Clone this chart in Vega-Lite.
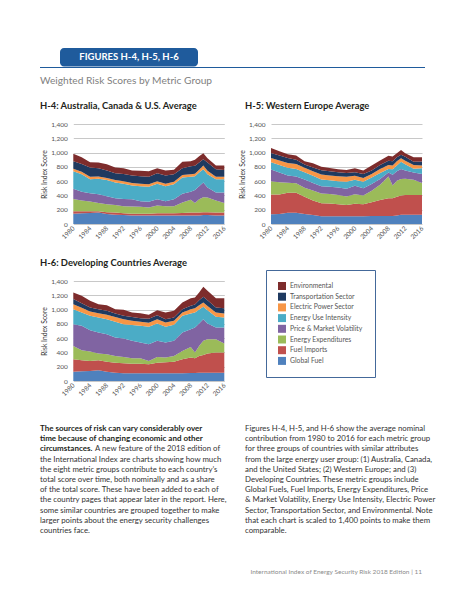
{
  "$schema": "https://vega.github.io/schema/vega-lite/v6.json",
  "background": "white",
  "padding": {"left": 40, "top": 48, "right": 0, "bottom": 0},
  "autosize": {"type": "pad"},
  "bounds": "flush",
  "spacing": 0,
  "datasets": {
    "groups": [
      {"key": "gf", "name": "Global Fuel", "k": 1},
      {"key": "fi", "name": "Fuel Imports", "k": 2},
      {"key": "ee", "name": "Energy Expenditures", "k": 3},
      {"key": "pm", "name": "Price & Market Volatility", "k": 4},
      {"key": "eu", "name": "Energy Use Intensity", "k": 5},
      {"key": "ep", "name": "Electric Power Sector", "k": 6},
      {"key": "ts", "name": "Transportation Sector", "k": 7},
      {"key": "en", "name": "Environmental", "k": 8}
    ],
    "risk": [
      {"c": "H-4", "year": 1980, "gf": 145, "fi": 35, "ee": 170, "pm": 145, "eu": 245, "ep": 35, "ts": 105, "en": 105},
      {"c": "H-4", "year": 1982, "gf": 150, "fi": 30, "ee": 150, "pm": 120, "eu": 245, "ep": 35, "ts": 110, "en": 95},
      {"c": "H-4", "year": 1984, "gf": 155, "fi": 25, "ee": 135, "pm": 115, "eu": 195, "ep": 35, "ts": 130, "en": 75},
      {"c": "H-4", "year": 1986, "gf": 160, "fi": 20, "ee": 115, "pm": 120, "eu": 220, "ep": 30, "ts": 115, "en": 80},
      {"c": "H-4", "year": 1988, "gf": 140, "fi": 25, "ee": 110, "pm": 115, "eu": 225, "ep": 30, "ts": 105, "en": 85},
      {"c": "H-4", "year": 1990, "gf": 130, "fi": 30, "ee": 105, "pm": 95, "eu": 220, "ep": 35, "ts": 95, "en": 80},
      {"c": "H-4", "year": 1992, "gf": 125, "fi": 25, "ee": 100, "pm": 100, "eu": 215, "ep": 35, "ts": 100, "en": 80},
      {"c": "H-4", "year": 1994, "gf": 120, "fi": 25, "ee": 100, "pm": 100, "eu": 195, "ep": 35, "ts": 105, "en": 70},
      {"c": "H-4", "year": 1996, "gf": 120, "fi": 25, "ee": 98, "pm": 77, "eu": 210, "ep": 35, "ts": 105, "en": 75},
      {"c": "H-4", "year": 1998, "gf": 120, "fi": 25, "ee": 85, "pm": 80, "eu": 210, "ep": 35, "ts": 105, "en": 80},
      {"c": "H-4", "year": 2000, "gf": 120, "fi": 30, "ee": 110, "pm": 85, "eu": 220, "ep": 35, "ts": 110, "en": 70},
      {"c": "H-4", "year": 2002, "gf": 120, "fi": 30, "ee": 100, "pm": 70, "eu": 210, "ep": 35, "ts": 115, "en": 70},
      {"c": "H-4", "year": 2004, "gf": 120, "fi": 30, "ee": 100, "pm": 95, "eu": 210, "ep": 35, "ts": 105, "en": 65},
      {"c": "H-4", "year": 2006, "gf": 120, "fi": 35, "ee": 145, "pm": 125, "eu": 225, "ep": 35, "ts": 95, "en": 90},
      {"c": "H-4", "year": 2008, "gf": 120, "fi": 40, "ee": 180, "pm": 110, "eu": 210, "ep": 35, "ts": 115, "en": 70},
      {"c": "H-4", "year": 2009, "gf": 120, "fi": 40, "ee": 135, "pm": 180, "eu": 195, "ep": 35, "ts": 110, "en": 85},
      {"c": "H-4", "year": 2010, "gf": 120, "fi": 40, "ee": 185, "pm": 185, "eu": 190, "ep": 40, "ts": 100, "en": 90},
      {"c": "H-4", "year": 2011, "gf": 125, "fi": 40, "ee": 210, "pm": 205, "eu": 185, "ep": 55, "ts": 85, "en": 85},
      {"c": "H-4", "year": 2012, "gf": 125, "fi": 40, "ee": 205, "pm": 140, "eu": 185, "ep": 50, "ts": 115, "en": 60},
      {"c": "H-4", "year": 2014, "gf": 120, "fi": 40, "ee": 170, "pm": 110, "eu": 185, "ep": 35, "ts": 105, "en": 55},
      {"c": "H-4", "year": 2016, "gf": 120, "fi": 40, "ee": 135, "pm": 145, "eu": 185, "ep": 35, "ts": 95, "en": 65},
      {"c": "H-5", "year": 1980, "gf": 135, "fi": 279, "ee": 186, "pm": 162, "eu": 103, "ep": 60, "ts": 70, "en": 70},
      {"c": "H-5", "year": 1982, "gf": 140, "fi": 274, "ee": 171, "pm": 135, "eu": 105, "ep": 65, "ts": 70, "en": 60},
      {"c": "H-5", "year": 1984, "gf": 158, "fi": 279, "ee": 140, "pm": 103, "eu": 106, "ep": 69, "ts": 70, "en": 50},
      {"c": "H-5", "year": 1986, "gf": 158, "fi": 279, "ee": 133, "pm": 95, "eu": 105, "ep": 70, "ts": 60, "en": 58},
      {"c": "H-5", "year": 1988, "gf": 140, "fi": 241, "ee": 126, "pm": 116, "eu": 102, "ep": 61, "ts": 46, "en": 48},
      {"c": "H-5", "year": 1990, "gf": 125, "fi": 205, "ee": 140, "pm": 105, "eu": 100, "ep": 65, "ts": 50, "en": 60},
      {"c": "H-5", "year": 1992, "gf": 110, "fi": 180, "ee": 138, "pm": 102, "eu": 93, "ep": 70, "ts": 60, "en": 47},
      {"c": "H-5", "year": 1994, "gf": 110, "fi": 178, "ee": 132, "pm": 100, "eu": 92, "ep": 68, "ts": 60, "en": 45},
      {"c": "H-5", "year": 1996, "gf": 110, "fi": 165, "ee": 130, "pm": 105, "eu": 90, "ep": 70, "ts": 55, "en": 40},
      {"c": "H-5", "year": 1998, "gf": 110, "fi": 155, "ee": 120, "pm": 110, "eu": 95, "ep": 70, "ts": 55, "en": 40},
      {"c": "H-5", "year": 2000, "gf": 110, "fi": 175, "ee": 130, "pm": 120, "eu": 85, "ep": 55, "ts": 50, "en": 55},
      {"c": "H-5", "year": 2002, "gf": 110, "fi": 168, "ee": 122, "pm": 100, "eu": 90, "ep": 55, "ts": 55, "en": 50},
      {"c": "H-5", "year": 2004, "gf": 112, "fi": 193, "ee": 160, "pm": 95, "eu": 90, "ep": 50, "ts": 50, "en": 68},
      {"c": "H-5", "year": 2006, "gf": 112, "fi": 223, "ee": 215, "pm": 80, "eu": 85, "ep": 55, "ts": 55, "en": 63},
      {"c": "H-5", "year": 2008, "gf": 112, "fi": 248, "ee": 305, "pm": 55, "eu": 50, "ep": 55, "ts": 60, "en": 70},
      {"c": "H-5", "year": 2009, "gf": 112, "fi": 248, "ee": 180, "pm": 150, "eu": 75, "ep": 55, "ts": 60, "en": 65},
      {"c": "H-5", "year": 2010, "gf": 120, "fi": 260, "ee": 225, "pm": 135, "eu": 80, "ep": 60, "ts": 55, "en": 55},
      {"c": "H-5", "year": 2011, "gf": 128, "fi": 272, "ee": 230, "pm": 140, "eu": 100, "ep": 50, "ts": 50, "en": 65},
      {"c": "H-5", "year": 2012, "gf": 130, "fi": 275, "ee": 230, "pm": 115, "eu": 85, "ep": 50, "ts": 55, "en": 50},
      {"c": "H-5", "year": 2014, "gf": 130, "fi": 275, "ee": 215, "pm": 100, "eu": 55, "ep": 50, "ts": 45, "en": 65},
      {"c": "H-5", "year": 2016, "gf": 130, "fi": 275, "ee": 170, "pm": 125, "eu": 80, "ep": 40, "ts": 55, "en": 60},
      {"c": "H-6", "year": 1980, "gf": 131, "fi": 173, "ee": 187, "pm": 305, "eu": 210, "ep": 70, "ts": 71, "en": 93},
      {"c": "H-6", "year": 1982, "gf": 135, "fi": 155, "ee": 140, "pm": 342, "eu": 188, "ep": 65, "ts": 65, "en": 103},
      {"c": "H-6", "year": 1984, "gf": 140, "fi": 141, "ee": 131, "pm": 299, "eu": 202, "ep": 60, "ts": 57, "en": 93},
      {"c": "H-6", "year": 1986, "gf": 150, "fi": 140, "ee": 94, "pm": 296, "eu": 210, "ep": 60, "ts": 55, "en": 71},
      {"c": "H-6", "year": 1988, "gf": 131, "fi": 140, "ee": 103, "pm": 281, "eu": 211, "ep": 61, "ts": 56, "en": 79},
      {"c": "H-6", "year": 1990, "gf": 117, "fi": 140, "ee": 94, "pm": 257, "eu": 222, "ep": 65, "ts": 50, "en": 61},
      {"c": "H-6", "year": 1992, "gf": 108, "fi": 142, "ee": 87, "pm": 257, "eu": 202, "ep": 70, "ts": 47, "en": 84},
      {"c": "H-6", "year": 1994, "gf": 108, "fi": 135, "ee": 75, "pm": 244, "eu": 223, "ep": 60, "ts": 50, "en": 65},
      {"c": "H-6", "year": 1996, "gf": 108, "fi": 132, "ee": 78, "pm": 220, "eu": 234, "ep": 56, "ts": 52, "en": 70},
      {"c": "H-6", "year": 1998, "gf": 108, "fi": 126, "ee": 47, "pm": 234, "eu": 245, "ep": 55, "ts": 55, "en": 57},
      {"c": "H-6", "year": 2000, "gf": 108, "fi": 149, "ee": 80, "pm": 225, "eu": 243, "ep": 61, "ts": 54, "en": 72},
      {"c": "H-6", "year": 2002, "gf": 108, "fi": 154, "ee": 66, "pm": 210, "eu": 220, "ep": 62, "ts": 46, "en": 94},
      {"c": "H-6", "year": 2004, "gf": 108, "fi": 163, "ee": 80, "pm": 211, "eu": 224, "ep": 56, "ts": 48, "en": 93},
      {"c": "H-6", "year": 2006, "gf": 110, "fi": 194, "ee": 117, "pm": 259, "eu": 233, "ep": 47, "ts": 46, "en": 94},
      {"c": "H-6", "year": 2008, "gf": 112, "fi": 216, "ee": 149, "pm": 248, "eu": 220, "ep": 61, "ts": 47, "en": 107},
      {"c": "H-6", "year": 2009, "gf": 112, "fi": 206, "ee": 80, "pm": 352, "eu": 210, "ep": 60, "ts": 50, "en": 100},
      {"c": "H-6", "year": 2010, "gf": 117, "fi": 234, "ee": 140, "pm": 314, "eu": 195, "ep": 60, "ts": 70, "en": 110},
      {"c": "H-6", "year": 2011, "gf": 117, "fi": 248, "ee": 197, "pm": 304, "eu": 173, "ep": 61, "ts": 80, "en": 140},
      {"c": "H-6", "year": 2012, "gf": 117, "fi": 267, "ee": 201, "pm": 220, "eu": 185, "ep": 60, "ts": 80, "en": 134},
      {"c": "H-6", "year": 2014, "gf": 117, "fi": 281, "ee": 187, "pm": 165, "eu": 150, "ep": 60, "ts": 70, "en": 130},
      {"c": "H-6", "year": 2016, "gf": 117, "fi": 281, "ee": 126, "pm": 226, "eu": 140, "ep": 55, "ts": 75, "en": 140}
    ]
  },
  "vconcat": [
    {
      "hconcat": [
        {"width": 1, "height": 18.5, "data": {"values": []}, "mark": "text"},
        {
          "width": 138,
          "height": 18.5,
          "view": {"fill": "#1f5b9c", "stroke": null, "cornerRadius": 4},
          "data": {"values": [{"t": "FIGURES H-4, H-5, H-6"}]},
          "mark": {"type": "text", "color": "white", "fontWeight": "bold", "fontSize": 9.5},
          "encoding": {"text": {"field": "t"}}
        }
      ],
      "spacing": 19,
      "bounds": "flush"
    },
    {"width": 1, "height": 18.5, "data": {"values": []}, "mark": "text"},
    {
      "width": 385,
      "height": 1,
      "view": {"fill": "#1f5b9c", "stroke": null},
      "data": {"values": []},
      "mark": "text",
      "title": {
        "text": "Weighted Risk Scores by Metric Group",
        "orient": "bottom",
        "anchor": "start",
        "frame": "group",
        "offset": 8,
        "fontSize": 10.2,
        "fontWeight": "normal",
        "color": "#7f7f7f"
      }
    },
    {"width": 1, "height": 55.2, "data": {"values": []}, "mark": "text"},
    {
      "hconcat": [
        {"width": 1, "height": 100, "data": {"values": []}, "mark": "text"},
        {
          "hconcat": [
            {
              "width": 151,
              "height": 100,
              "title": {"text": "H-4: Australia, Canada & U.S. Average", "anchor": "start", "frame": "group", "dx": -33.3, "offset": 10, "fontSize": 9.4, "fontWeight": "bold", "color": "#231f20"},
              "data": {"name": "risk"},
              "transform": [
                {"filter": "datum.c == 'H-4'"},
                {"fold": ["gf", "fi", "ee", "pm", "eu", "ep", "ts", "en"], "as": ["key", "v"]},
                {"lookup": "key", "from": {"data": {"name": "groups"}, "key": "key", "fields": ["name", "k"]}}
              ],
              "mark": {"type": "area", "interpolate": "linear"},
              "encoding": {
                "x": {"field": "year", "type": "quantitative", "scale": {"domain": [1980, 2016], "nice": false, "zero": false}, "axis": {"values": [1980, 1984, 1988, 1992, 1996, 2000, 2004, 2008, 2012, 2016], "format": "d", "title": null}},
                "y": {"field": "v", "type": "quantitative", "stack": "zero", "scale": {"domain": [0, 1400], "nice": false}, "axis": {"values": [0, 200, 400, 600, 800, 1000, 1200, 1400], "format": ",.0f", "title": "Risk Index Score"}},
                "color": {
                  "field": "name",
                  "type": "nominal",
                  "scale": {
                    "domain": ["Environmental", "Transportation Sector", "Electric Power Sector", "Energy Use Intensity", "Price & Market Volatility", "Energy Expenditures", "Fuel Imports", "Global Fuel"],
                    "range": ["#7d2c2c", "#1f3a60", "#f79646", "#4bacc6", "#8064a2", "#9bbb59", "#c0504d", "#4f81bd"]
                  },
                  "legend": {"title": null, "orient": "none", "legendX": 226, "legendY": 222, "direction": "vertical", "symbolType": "square", "symbolSize": 64, "symbolStrokeWidth": 0, "labelFontSize": 6.8, "labelColor": "#555555", "labelOffset": 4, "rowPadding": 2.7, "padding": 12, "strokeColor": "#44699a"}
                },
                "order": {"field": "k", "type": "quantitative"}
              }
            },
            {
              "width": 151,
              "height": 100,
              "title": {"text": "H-5: Western Europe Average", "anchor": "start", "frame": "group", "dx": -26, "offset": 10, "fontSize": 9.4, "fontWeight": "bold", "color": "#231f20"},
              "data": {"name": "risk"},
              "transform": [
                {"filter": "datum.c == 'H-5'"},
                {"fold": ["gf", "fi", "ee", "pm", "eu", "ep", "ts", "en"], "as": ["key", "v"]},
                {"lookup": "key", "from": {"data": {"name": "groups"}, "key": "key", "fields": ["name", "k"]}}
              ],
              "mark": {"type": "area", "interpolate": "linear"},
              "encoding": {
                "x": {"field": "year", "type": "quantitative", "scale": {"domain": [1980, 2016], "nice": false, "zero": false}, "axis": {"values": [1980, 1984, 1988, 1992, 1996, 2000, 2004, 2008, 2012, 2016], "format": "d", "title": null}},
                "y": {"field": "v", "type": "quantitative", "stack": "zero", "scale": {"domain": [0, 1400], "nice": false}, "axis": {"values": [0, 200, 400, 600, 800, 1000, 1200, 1400], "format": ",.0f", "title": "Risk Index Score"}},
                "color": {"field": "name", "type": "nominal"},
                "order": {"field": "k", "type": "quantitative"}
              }
            }
          ],
          "spacing": 46.7,
          "bounds": "flush"
        }
      ],
      "spacing": 32.3,
      "bounds": "flush"
    },
    {"width": 1, "height": 156.3, "data": {"values": []}, "mark": "text"},
    {
      "hconcat": [
        {"width": 1, "height": 100, "data": {"values": []}, "mark": "text"},
        {
          "width": 151,
          "height": 100,
          "title": {"text": "H-6: Developing Countries Average", "anchor": "start", "frame": "group", "dx": -33.3, "offset": 10, "fontSize": 9.4, "fontWeight": "bold", "color": "#231f20"},
          "data": {"name": "risk"},
          "transform": [
            {"filter": "datum.c == 'H-6'"},
            {"fold": ["gf", "fi", "ee", "pm", "eu", "ep", "ts", "en"], "as": ["key", "v"]},
            {"lookup": "key", "from": {"data": {"name": "groups"}, "key": "key", "fields": ["name", "k"]}}
          ],
          "mark": {"type": "area", "interpolate": "linear"},
          "encoding": {
            "x": {"field": "year", "type": "quantitative", "scale": {"domain": [1980, 2016], "nice": false, "zero": false}, "axis": {"values": [1980, 1984, 1988, 1992, 1996, 2000, 2004, 2008, 2012, 2016], "format": "d", "title": null}},
            "y": {"field": "v", "type": "quantitative", "stack": "zero", "scale": {"domain": [0, 1400], "nice": false}, "axis": {"values": [0, 200, 400, 600, 800, 1000, 1200, 1400], "format": ",.0f", "title": "Risk Index Score"}},
            "color": {"field": "name", "type": "nominal"},
            "order": {"field": "k", "type": "quantitative"}
          }
        }
      ],
      "spacing": 32.3,
      "bounds": "flush"
    },
    {"width": 1, "height": 148, "data": {"values": []}, "mark": "text"},
    {
      "width": 385,
      "height": 102,
      "title": {
        "text": "International Index of Energy Security Risk 2018 Edition | 11",
        "orient": "bottom",
        "anchor": "end",
        "frame": "group",
        "offset": 34,
        "dx": -3,
        "fontSize": 6.5,
        "fontWeight": "normal",
        "color": "#8c8c8c"
      },
      "data": {
        "values": [
          {"col": "L", "line": 1, "w": "b", "t": "The sources of risk can vary considerably over"},
          {"col": "L", "line": 2, "w": "b", "t": "time because of changing economic and other"},
          {"col": "L", "line": 3, "w": "b", "t": "circumstances."},
          {"col": "L", "line": 3, "w": "c", "t": "A new feature of the 2018 edition of"},
          {"col": "L", "line": 4, "w": "n", "t": "the International Index are charts showing how much"},
          {"col": "L", "line": 5, "w": "n", "t": "the eight metric groups contribute to each country’s"},
          {"col": "L", "line": 6, "w": "n", "t": "total score over time, both nominally and as a share"},
          {"col": "L", "line": 7, "w": "n", "t": "of the total score. These have been added to each of"},
          {"col": "L", "line": 8, "w": "n", "t": "the country pages that appear later in the report. Here,"},
          {"col": "L", "line": 9, "w": "n", "t": "some similar countries are grouped together to make"},
          {"col": "L", "line": 10, "w": "n", "t": "larger points about the energy security challenges"},
          {"col": "L", "line": 11, "w": "n", "t": "countries face."},
          {"col": "R", "line": 1, "w": "n", "t": "Figures H-4, H-5, and H-6 show the average nominal"},
          {"col": "R", "line": 2, "w": "n", "t": "contribution from 1980 to 2016 for each metric group"},
          {"col": "R", "line": 3, "w": "n", "t": "for three groups of countries with similar attributes"},
          {"col": "R", "line": 4, "w": "n", "t": "from the large energy user group: (1) Australia, Canada,"},
          {"col": "R", "line": 5, "w": "n", "t": "and the United States; (2) Western Europe; and (3)"},
          {"col": "R", "line": 6, "w": "n", "t": "Developing Countries. These metric groups include"},
          {"col": "R", "line": 7, "w": "n", "t": "Global Fuels, Fuel Imports, Energy Expenditures, Price"},
          {"col": "R", "line": 8, "w": "n", "t": "& Market Volatility, Energy Use Intensity, Electric Power"},
          {"col": "R", "line": 9, "w": "n", "t": "Sector, Transportation Sector, and Environmental. Note"},
          {"col": "R", "line": 10, "w": "n", "t": "that each chart is scaled to 1,400 points to make them"},
          {"col": "R", "line": 11, "w": "n", "t": "comparable."}
        ]
      },
      "encoding": {
        "x": {"field": "col", "type": "nominal", "axis": null, "bandPosition": 0, "scale": {"type": "band", "domain": ["L", "R"], "paddingInner": 0.122, "paddingOuter": 0}},
        "y": {"field": "line", "type": "ordinal", "axis": null, "scale": {"type": "point", "padding": 0}},
        "text": {"field": "t"}
      },
      "layer": [
        {"transform": [{"filter": "datum.w == 'n'"}], "mark": {"type": "text", "align": "left", "baseline": "middle", "fontSize": 7.8, "color": "#333333"}},
        {"transform": [{"filter": "datum.w == 'b'"}], "mark": {"type": "text", "align": "left", "baseline": "middle", "fontSize": 8, "fontWeight": "bold", "color": "#231f20"}},
        {"transform": [{"filter": "datum.w == 'c'"}], "mark": {"type": "text", "align": "left", "baseline": "middle", "fontSize": 7.8, "dx": 55, "color": "#333333"}}
      ]
    }
  ],
  "config": {
    "view": {"stroke": null},
    "font": "Lato",
    "text": {"font": "Lato"},
    "title": {"font": "Lato"},
    "axis": {"labelFont": "Lato", "titleFont": "Lato", "domain": false, "ticks": false, "labelFontSize": 6.5, "labelColor": "#555555", "titleFontSize": 6.8, "titleFontWeight": "normal", "titleColor": "#333333", "gridColor": "#c8c8c8", "gridWidth": 1},
    "axisX": {"grid": false, "labelAngle": -45, "labelAlign": "right", "labelBaseline": "middle", "labelPadding": 3},
    "axisY": {"labelPadding": 6, "titlePadding": 3},
    "legend": {"labelFont": "Lato"}
  }
}
